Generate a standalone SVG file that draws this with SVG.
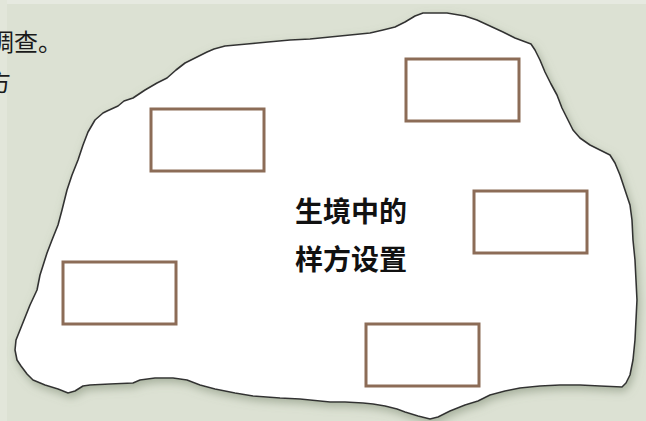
<svg xmlns="http://www.w3.org/2000/svg" width="646" height="421" viewBox="0 0 646 421">
<style>
.quad{fill:#ffffff;stroke:#8c6c57;stroke-width:3}
.side{font-family:"Noto Sans CJK SC",serif;font-size:24px;fill:#1a1a1a}
.title{font-family:"Noto Sans CJK SC",sans-serif;font-size:28px;font-weight:bold;fill:#111111;text-anchor:middle}
</style>
<defs>
<filter id="sh" x="-10%" y="-10%" width="120%" height="125%">
<feDropShadow dx="2" dy="4" stdDeviation="4" flood-color="#7d8b73" flood-opacity="0.55"/>
</filter>
</defs>
<rect x="0" y="0" width="646" height="421" fill="#dce1d3"/>
<rect x="0" y="0" width="646" height="4" fill="#e6e9e0"/>
<rect x="0" y="0" width="7" height="421" fill="#e2e6da"/>
<g id="page-text">
<text class="side" x="-10" y="51">调查。</text>
<text class="side" x="-13" y="91">方</text>
</g>
<g id="habitat">
<path filter="url(#sh)" fill="#ffffff" stroke="#333333" stroke-width="1.6" stroke-linejoin="round" d="M103,113 L107,111 L118,106 L124,101 L133,98 L145,90 L157,83 L167,78 L176,70 L185,63 L197,57 L207,52 L214,49 L225,46 L247,44 L268,42 L290,40 L310,39 L330,37 L350,35 L370,33 L383,30 L395,27 L405,22 L415,16 L423,13 L447,13 L465,16 L477,20 L490,26 L503,32 L515,38 L523,41 L531,44 L535,50 L540,60 L545,72 L551,84 L557,95 L562,108 L567,118 L573,130 L580,138 L590,145 L600,150 L610,155 L615,163 L620,175 L625,190 L630,205 L632,220 L633,240 L635,260 L636,280 L637,300 L636,320 L635,340 L633,360 L630,375 L626,383 L622,387 L600,386 L580,385 L560,385 L540,386 L520,388 L505,391 L490,395 L478,401 L465,405 L450,411 L438,417 L430,419 L418,416 L405,412 L397,409 L385,406 L373,404 L363,403 L345,402 L330,402 L300,399 L280,398 L253,396 L235,393 L215,389 L200,385 L187,380 L173,378 L155,378 L140,380 L133,383 L110,384 L90,385 L83,386 L75,391 L68,393 L58,389 L45,385 L33,380 L27,374 L21,366 L17,360 L15,350 L16,340 L20,330 L24,320 L30,305 L37,290 L40,275 L47,253 L52,240 L58,225 L62,210 L67,190 L72,175 L78,160 L83,145 L88,132 L95,120 Z"/>
</g>
<g id="quadrat-1"><rect class="quad" x="151" y="109" width="113" height="62"/></g>
<g id="quadrat-2"><rect class="quad" x="406" y="59" width="113" height="62"/></g>
<g id="quadrat-3"><rect class="quad" x="474" y="191" width="113" height="62"/></g>
<g id="quadrat-4"><rect class="quad" x="63" y="262" width="113" height="62"/></g>
<g id="quadrat-5"><rect class="quad" x="366" y="324" width="113" height="62"/></g>
<g id="label">
<text class="title" x="351" y="222">生境中的</text>
<text class="title" x="351" y="270">样方设置</text>
</g>
</svg>
